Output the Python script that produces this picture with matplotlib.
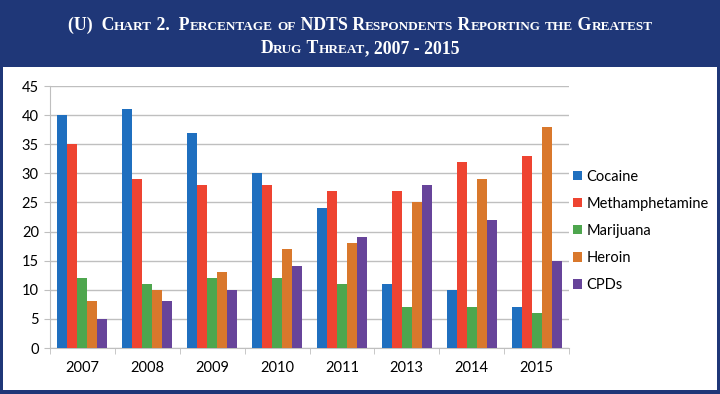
import matplotlib
matplotlib.use("Agg")
import matplotlib.pyplot as plt
import numpy as np
from matplotlib.patches import Rectangle

years = ["2007", "2008", "2009", "2010", "2011", "2013", "2014", "2015"]
series_names = ["Cocaine", "Methamphetamine", "Marijuana", "Heroin", "CPDs"]
cocaine = [40, 41, 37, 30, 24, 11, 10, 7]
meth = [35, 29, 28, 28, 27, 27, 32, 33]
marijuana = [12, 11, 12, 12, 11, 7, 7, 6]
heroin = [8, 10, 13, 17, 18, 25, 29, 38]
cpds = [5, 8, 10, 14, 19, 28, 22, 15]
yticks = [0, 5, 10, 15, 20, 25, 30, 35, 40, 45]
colors = ["#1F6FBF", "#EE4431", "#4EA64E", "#D9782C", "#67449A"]
navy = "#1F3778"

W, H = 720, 394
fig = plt.figure(figsize=(W / 100, H / 100), dpi=100)
fig.patch.set_facecolor(navy)
# white panel
fig.patches.append(Rectangle((3 / W, 4 / H), (W - 6) / W, (H - 67 - 4) / H,
                             transform=fig.transFigure, facecolor="white",
                             edgecolor="none", zorder=-10))

ax = fig.add_axes([50 / W, 1 - 348 / H, (569 - 50) / W, (348 - 86) / H])
ax.set_zorder(5)
ax.set_facecolor("white")
x = np.arange(len(years))
data = [cocaine, meth, marijuana, heroin, cpds]
bw = 0.154
for i, (name, vals) in enumerate(zip(series_names, data)):
    ax.bar(x + (i - 2) * bw, vals, bw, color=colors[i], label=name, zorder=3)

FONT = "Lato"
FS = 10.5
ax.set_xlim(-0.5, len(years) - 0.5)
ax.set_ylim(0, 45)
ax.set_yticks(yticks)
ax.grid(axis="y", color="#BFBFBF", lw=1, zorder=0)
for s in ["top", "right"]:
    ax.spines[s].set_visible(False)
ax.spines["left"].set_color("#BFBFBF")
ax.spines["bottom"].set_color("#BFBFBF")
ax.tick_params(axis="y", length=4, color="#BFBFBF", labelsize=FS, pad=4)
ax.set_xticks(x)
ax.set_xticklabels(years)
ax.tick_params(axis="x", length=0, labelsize=FS, pad=9)
ax.set_xticks(np.arange(-0.5, len(years)), minor=True)
ax.tick_params(axis="x", which="minor", length=4, color="#BFBFBF")
for lab in ax.get_xticklabels() + ax.get_yticklabels():
    lab.set_fontfamily(FONT)

leg = ax.legend(loc="center left", bbox_to_anchor=(1.0, (348 - 231) / 262),
                frameon=False, prop={"family": FONT, "size": FS},
                handlelength=0.6, handleheight=0.6, handletextpad=0.3,
                labelspacing=0.9, borderaxespad=0.1, borderpad=0.2)

# Small caps title
def small_caps_line(text, yb, big=12.8, small=9.5):
    runs = []
    for word_i, word in enumerate(text.split(" ")):
        if word_i > 0:
            runs.append((" ", big))
        for ch in word:
            if ch.islower():
                runs.append((ch.upper(), small))
            else:
                runs.append((ch, big))
    merged = []
    for s, sz in runs:
        if merged and merged[-1][1] == sz:
            merged[-1] = (merged[-1][0] + s, sz)
        else:
            merged.append((s, sz))
    r = fig.canvas.get_renderer()
    texts = []
    widths = []
    for s, sz in merged:
        t = fig.text(0, yb, s.replace(" ", "\u00a0"), color="white", fontsize=sz,
                     fontweight="bold", family="Liberation Serif",
                     va="baseline", ha="left")
        bb = t.get_window_extent(renderer=r)
        texts.append(t)
        widths.append(bb.width)
    total = sum(widths)
    xpos = (W - total) / 2
    for t, w in zip(texts, widths):
        t.set_x(xpos / W)
        xpos += w

small_caps_line("(U)  Chart 2.  Percentage of NDTS Respondents Reporting the Greatest", 1 - 30 / H)
small_caps_line("Drug Threat, 2007 - 2015", 1 - 53 / H)

fig.savefig("out.png", dpi=100, facecolor=fig.get_facecolor())
